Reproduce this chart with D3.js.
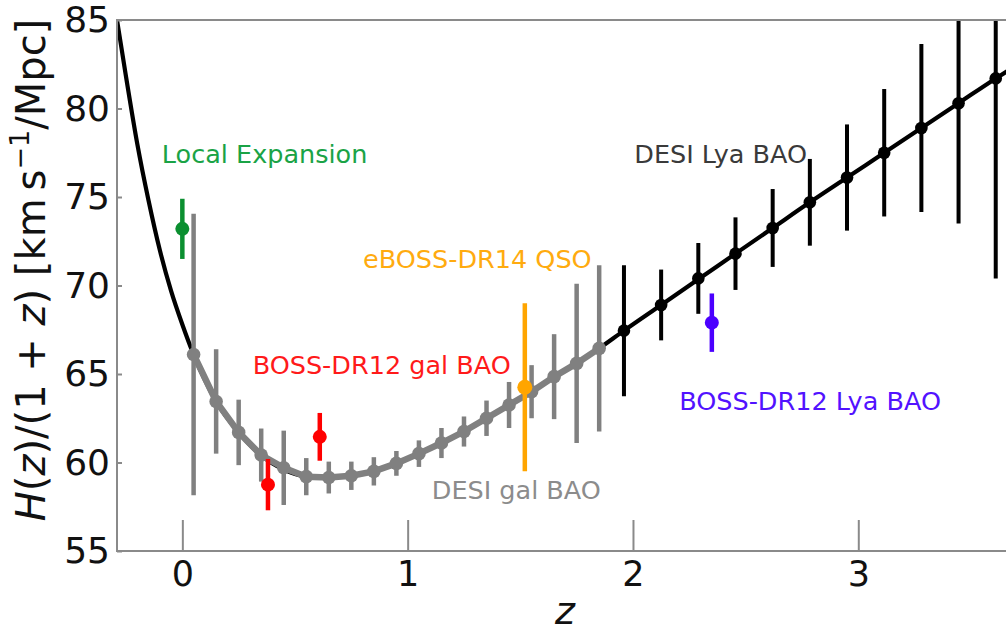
<!DOCTYPE html>
<html><head><meta charset="utf-8">
<script src="https://cdn.jsdelivr.net/npm/d3@7"></script>
<style>
html,body{margin:0;padding:0;background:#fff;}
svg{display:block;font-family:"DejaVu Sans",sans-serif;}
</style></head>
<body><svg id="chart" width="1006" height="636"></svg>
<script>
// ---- data ----
const curveZ = [-0.29,-0.25,-0.2,-0.15,-0.1,-0.05,0,0.05,0.15,0.25,0.35,0.45,0.5,0.55,0.65,0.75,0.85,0.95,1.05,1.15,1.25,1.35,1.45,1.55,1.65,1.75,1.85,1.96,2.125,2.29,2.455,2.62,2.785,2.95,3.115,3.28,3.445,3.61,3.66];
const curveH = [85.0,81.8,78.0,74.8,72.0,69.7,67.8,66.1,63.45,61.7,60.4,59.6,59.35,59.2,59.15,59.25,59.5,59.95,60.5,61.1,61.75,62.5,63.25,64.0,64.85,65.6,66.45,67.45,68.9,70.35,71.8,73.25,74.7,76.1,77.5,78.9,80.3,81.7,82.1];

const galZ   = [0.05,0.15,0.25,0.35,0.45,0.55,0.65,0.75,0.85,0.95,1.05,1.15,1.25,1.35,1.45,1.55,1.65,1.75,1.85];
const galH   = [66.1,63.45,61.7,60.42,59.7,59.2,59.15,59.25,59.5,59.95,60.5,61.1,61.75,62.5,63.25,64.0,64.85,65.6,66.45];
const galErr = [7.95,2.95,1.85,1.5,2.1,1.05,0.9,0.8,0.8,0.7,0.75,0.85,0.85,1.0,1.3,1.5,2.4,4.5,4.7];

const lyaZ   = [1.96,2.125,2.29,2.455,2.62,2.785,2.95,3.115,3.28,3.445,3.61];
const lyaH   = [67.45,68.9,70.4,71.8,73.25,74.7,76.1,77.5,78.9,80.3,81.7];
const lyaErr = [3.7,2.0,2.0,2.05,2.2,2.45,3.0,3.6,4.75,6.8,11.3];

const localZ = [0.0],  localH = [73.2],  localErr = [1.7];
const bossGalZ = [0.38,0.61], bossGalH = [58.75,61.45], bossGalErr = [1.45,1.35];
const qsoZ = [1.52], qsoH = [64.25], qsoErr = [4.75];
const bossLyaZ = [2.35], bossLyaH = [67.9], bossLyaErr = [1.65];

const xTicks = [0,1,2,3];
const yTicks = [55,60,65,70,75,80,85];

const labelText = ["Local Expansion","BOSS-DR12 gal BAO","eBOSS-DR14 QSO","DESI gal BAO","DESI Lya BAO","BOSS-DR12 Lya BAO"];
const labelZ    = [-0.091, 0.312, 0.802, 1.107, 2.006, 2.205];
const labelH    = [76.92, 65.0, 71.0, 57.92, 76.94, 62.97];
const labelColor= ["#1aa346","#ff1a1a","#ffab0f","#8c8c8c","#3a3a3a","#5212ff"];

// ---- layout ----
const svg = d3.select("#chart");
const L = 117, R = 1007, T = 20, B = 551;
const x = d3.scaleLinear().domain([-0.29, 3.66]).range([L, R]);
const y = d3.scaleLinear().domain([55, 85]).range([B, T]);

svg.append("defs").append("clipPath").attr("id","clip")
  .append("rect").attr("x",L).attr("y",T).attr("width",R-L).attr("height",B-T);

const plot = svg.append("g").attr("clip-path","url(#clip)");

// theory curve (black)
const cdata = curveZ.map((z,i)=>[z,curveH[i]]);
plot.append("path").datum(cdata)
  .attr("fill","none").attr("stroke","#000").attr("stroke-width",4.2)
  .attr("d", d3.line().x(d=>x(d[0])).y(d=>y(d[1])).curve(d3.curveMonotoneX));

// DESI gal BAO line (grey)
const gdata = galZ.map((z,i)=>({z, h:galH[i], e:galErr[i]}));
plot.append("path").datum(gdata)
  .attr("fill","none").attr("stroke","#808080").attr("stroke-width",6.5)
  .attr("d", d3.line().x(d=>x(d.z)).y(d=>y(d.h)));

function errPoints(g, data, color, bw, r){
  g.selectAll(null).data(data).enter().append("line")
    .attr("x1",d=>x(d.z)).attr("x2",d=>x(d.z))
    .attr("y1",d=>y(d.h+d.e)).attr("y2",d=>y(d.h-d.e))
    .attr("stroke",color).attr("stroke-width",bw);
  g.selectAll(null).data(data).enter().append("circle")
    .attr("cx",d=>x(d.z)).attr("cy",d=>y(d.h)).attr("r",r).attr("fill",color);
}
errPoints(plot, gdata, "#808080", 4.5, 6.8);

const ldata = lyaZ.map((z,i)=>({z, h:lyaH[i], e:lyaErr[i]}));
errPoints(plot, ldata, "#000", 4, 6.3);

const mk = (zs,hs,es)=>zs.map((z,i)=>({z,h:hs[i],e:es[i]}));
errPoints(plot, mk(localZ,localH,localErr), "#0b8f30", 4.5, 7);
errPoints(plot, mk(bossGalZ,bossGalH,bossGalErr), "#ff0000", 4.5, 7);
errPoints(plot, mk(qsoZ,qsoH,qsoErr), "#ffa500", 4.5, 7.5);
errPoints(plot, mk(bossLyaZ,bossLyaH,bossLyaErr), "#4b00ff", 4.5, 7);

// annotations
svg.selectAll(null).data(labelText).enter().append("text")
  .attr("x",(d,i)=>x(labelZ[i])).attr("y",(d,i)=>y(labelH[i]))
  .attr("fill",(d,i)=>labelColor[i]).attr("font-size",25.5).text(d=>d);

// spines
const spine = "#8a8a8a";
svg.append("line").attr("x1",L).attr("x2",R).attr("y1",T).attr("y2",T).attr("stroke",spine).attr("stroke-width",2);
svg.append("line").attr("x1",L).attr("x2",R).attr("y1",B).attr("y2",B).attr("stroke",spine).attr("stroke-width",2);
svg.append("line").attr("x1",L).attr("x2",L).attr("y1",T-1).attr("y2",B+1).attr("stroke",spine).attr("stroke-width",2);

// axes
const xAxis = d3.axisBottom(x).tickValues(xTicks).tickSizeInner(-31).tickSizeOuter(0).tickPadding(10).tickFormat(d3.format("d"));
const gx = svg.append("g").attr("transform",`translate(0,${B})`).call(xAxis);
gx.select(".domain").remove();
gx.selectAll(".tick line").attr("stroke",spine).attr("stroke-width",2);
gx.selectAll(".tick text").attr("font-size",35).attr("fill","#111").attr("font-family","DejaVu Sans");

const yAxis = d3.axisLeft(y).tickValues(yTicks).tickSizeInner(-5).tickSizeOuter(0).tickPadding(7).tickFormat(d3.format("d"));
const gy = svg.append("g").attr("transform",`translate(${L},0)`).call(yAxis);
gy.select(".domain").remove();
gy.selectAll(".tick line").attr("stroke",spine).attr("stroke-width",2);
gy.selectAll(".tick text").attr("font-size",36).attr("fill","#111").attr("font-family","DejaVu Sans");

// axis titles
svg.append("text").attr("x",565).attr("y",624).attr("text-anchor","middle")
  .attr("font-size",38).attr("font-style","italic").attr("fill","#111").text("z");

const yl = svg.append("text").attr("transform","translate(45,270) rotate(-90)")
  .attr("text-anchor","middle").attr("font-size",40).attr("fill","#111");
yl.append("tspan").attr("font-style","italic").text("H");
yl.append("tspan").text("(");
yl.append("tspan").attr("font-style","italic").text("z");
yl.append("tspan").text(")/(1 + ");
yl.append("tspan").attr("font-style","italic").text("z");
yl.append("tspan").text(") [km\u2009s");
yl.append("tspan").attr("font-size",27).attr("dy",-16).text("\u22121");
yl.append("tspan").attr("dy",16).text("/Mpc]");
</script></body></html>
